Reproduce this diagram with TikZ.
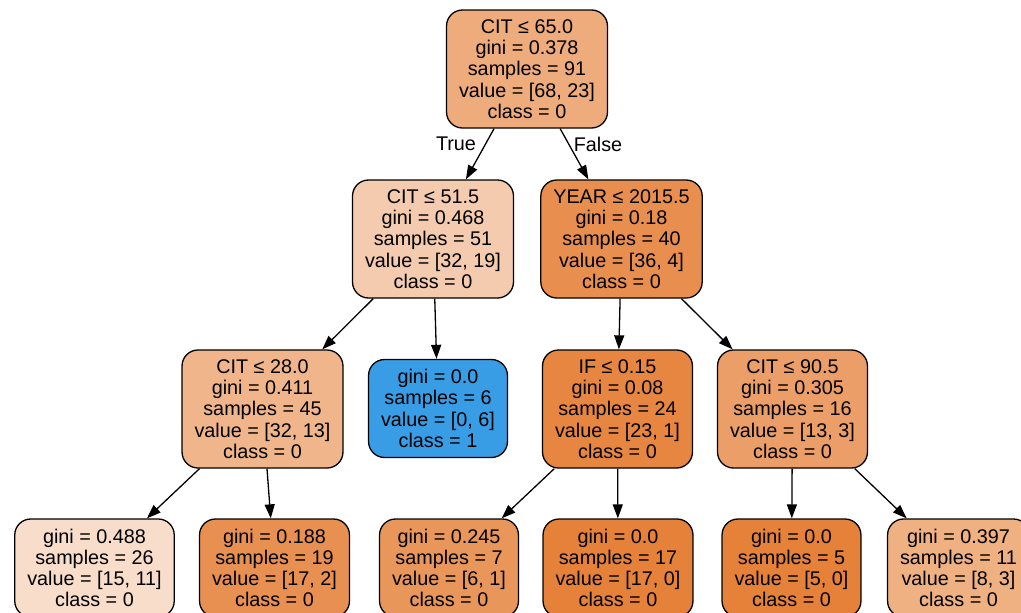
\documentclass[tikz,border=0pt]{standalone}
\usepackage{fontspec}
\setmainfont{Liberation Sans}
\usetikzlibrary{arrows.meta}

\definecolor{clsorange}{HTML}{E58139}
\definecolor{clsblue}{HTML}{399DE5}

\begin{document}
\begin{tikzpicture}[
  x=1pt, y=-1pt,
  font=\fontsize{19.8}{21.2}\selectfont,
  split/.style={draw, rounded corners=16pt, line width=1.3pt, align=center, inner xsep=12.5pt, inner ysep=0pt, minimum height=118pt},
  leaf/.style={split, minimum height=98pt},
  arrow/.style={-{Triangle[length=14pt, width=10pt]}, line width=1.3pt},
  edgelabel/.style={inner sep=0pt}
]
  \clip (0,0) rectangle (1021,613);

  \node[split, fill=clsorange!66!white] (root) at (527,69) {CIT ≤ 65.0\\gini = 0.378\\samples = 91\\value = [68, 23]\\class = 0};

  \node[split, fill=clsorange!41!white] (cit51) at (433,239) {CIT ≤ 51.5\\gini = 0.468\\samples = 51\\value = [32, 19]\\class = 0};
  \node[split, fill=clsorange!89!white] (year) at (621.5,239) {YEAR ≤ 2015.5\\gini = 0.18\\samples = 40\\value = [36, 4]\\class = 0};

  \node[split, fill=clsorange!59!white] (cit28) at (262.5,409) {CIT ≤ 28.0\\gini = 0.411\\samples = 45\\value = [32, 13]\\class = 0};
  \node[leaf, fill=clsblue] (blue6) at (438,408.5) {gini = 0.0\\samples = 6\\value = [0, 6]\\class = 1};
  \node[split, fill=clsorange!96!white] (if015) at (617.5,409) {IF ≤ 0.15\\gini = 0.08\\samples = 24\\value = [23, 1]\\class = 0};
  \node[split, fill=clsorange!77!white] (cit90) at (792.5,409) {CIT ≤ 90.5\\gini = 0.305\\samples = 16\\value = [13, 3]\\class = 0};

  \node[leaf, fill=clsorange!27!white] (leaf26) at (94.5,568) {gini = 0.488\\samples = 26\\value = [15, 11]\\class = 0};
  \node[leaf, fill=clsorange!88!white] (leaf19) at (274.5,568) {gini = 0.188\\samples = 19\\value = [17, 2]\\class = 0};
  \node[leaf, fill=clsorange!83!white] (leaf7) at (449,568) {gini = 0.245\\samples = 7\\value = [6, 1]\\class = 0};
  \node[leaf, fill=clsorange] (leaf17) at (618,568) {gini = 0.0\\samples = 17\\value = [17, 0]\\class = 0};
  \node[leaf, fill=clsorange] (leaf5) at (791.5,568) {gini = 0.0\\samples = 5\\value = [5, 0]\\class = 0};
  \node[leaf, fill=clsorange!63!white] (leaf11) at (958.5,568) {gini = 0.397\\samples = 11\\value = [8, 3]\\class = 0};

  \draw[arrow] (root) -- (cit51);
  \draw[arrow] (root) -- (year);
  \draw[arrow] (cit51) -- (cit28);
  \draw[arrow] (cit51) -- (blue6);
  \draw[arrow] (year) -- (if015);
  \draw[arrow] (year) -- (cit90);
  \draw[arrow] (cit28) -- (leaf26);
  \draw[arrow] (cit28) -- (leaf19);
  \draw[arrow] (if015) -- (leaf7);
  \draw[arrow] (if015) -- (leaf17);
  \draw[arrow] (cit90) -- (leaf5);
  \draw[arrow] (cit90) -- (leaf11);

  \node[edgelabel] (truelab) at (456,144) {True};
  \node[edgelabel] (falselab) at (598,144) {False};
\end{tikzpicture}
\end{document}
